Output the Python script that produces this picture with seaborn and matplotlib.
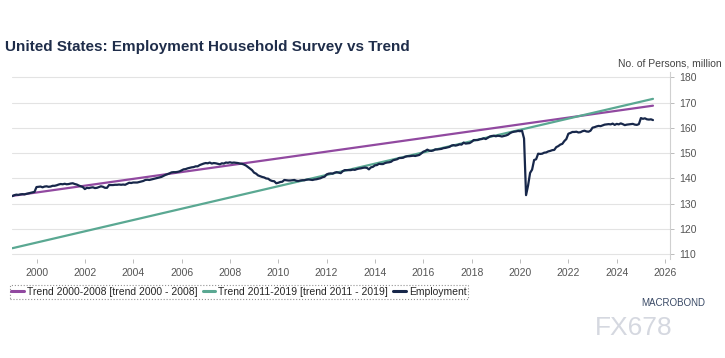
import numpy as np
import pandas as pd
import matplotlib
matplotlib.use("Agg")
import matplotlib.pyplot as plt
import seaborn as sns

# monthly employment, household survey (million persons), Jan 1999 - Jul 2025
emp_1999 = [133.0, 133.4, 133.6, 133.5, 133.7, 133.8, 133.7, 133.9, 134.1, 134.3, 134.5, 134.7]
emp_2000 = [136.6, 136.7, 136.8, 136.5, 136.8, 136.9, 136.7, 136.8, 137.1, 137.1, 137.3, 137.6]
emp_2001 = [137.8, 137.7, 137.9, 137.7, 137.8, 138.0, 138.1, 137.8, 137.6, 137.2, 136.9, 136.6]
emp_2002 = [135.8, 136.3, 136.2, 136.4, 136.5, 136.2, 136.3, 136.6, 136.9, 136.7, 136.3, 136.3]
emp_2003 = [137.4, 137.4, 137.4, 137.5, 137.5, 137.6, 137.5, 137.6, 137.5, 137.9, 138.3, 138.2]
emp_2004 = [138.4, 138.4, 138.4, 138.6, 138.8, 139.0, 139.4, 139.5, 139.4, 139.6, 139.8, 140.0]
emp_2005 = [140.2, 140.4, 140.6, 141.0, 141.4, 141.7, 142.0, 142.4, 142.5, 142.5, 142.6, 142.8]
emp_2006 = [143.2, 143.6, 143.7, 144.0, 144.2, 144.4, 144.5, 144.8, 144.8, 145.3, 145.6, 145.9]
emp_2007 = [146.1, 146.0, 146.3, 145.9, 146.1, 146.0, 145.8, 145.6, 146.0, 145.9, 146.3, 146.2]
emp_2008 = [146.4, 146.2, 146.3, 146.2, 146.1, 145.9, 145.8, 145.5, 145.1, 144.5, 143.9, 143.3]
emp_2009 = [142.3, 141.9, 141.2, 140.9, 140.6, 140.4, 140.0, 139.9, 139.3, 139.0, 138.9, 138.1]
emp_2010 = [138.3, 138.6, 138.7, 139.4, 139.3, 139.2, 139.2, 139.3, 139.4, 139.1, 139.0, 139.2]
emp_2011 = [139.3, 139.3, 139.5, 139.6, 139.5, 139.4, 139.6, 139.7, 139.9, 140.1, 140.5, 140.7]
emp_2012 = [141.6, 141.9, 142.0, 141.9, 142.3, 142.5, 142.3, 142.1, 142.9, 143.3, 143.3, 143.3]
emp_2013 = [143.3, 143.5, 143.4, 143.7, 143.9, 144.0, 144.2, 144.3, 144.2, 143.6, 144.4, 144.6]
emp_2014 = [145.2, 145.3, 145.8, 145.7, 145.7, 146.1, 146.3, 146.4, 146.6, 147.2, 147.4, 147.6]
emp_2015 = [148.1, 148.1, 148.2, 148.6, 148.8, 148.8, 148.9, 149.0, 148.9, 149.1, 149.3, 149.9]
emp_2016 = [150.6, 150.9, 151.4, 151.0, 150.9, 151.1, 151.5, 151.5, 151.6, 151.7, 152.0, 152.1]
emp_2017 = [152.3, 152.5, 153.0, 153.2, 153.0, 153.2, 153.5, 153.4, 154.2, 153.8, 153.9, 154.0]
emp_2018 = [154.5, 155.2, 155.2, 155.2, 155.5, 155.6, 155.9, 155.6, 156.1, 156.6, 156.8, 156.9]
emp_2019 = [156.7, 156.9, 156.8, 156.6, 156.8, 157.0, 157.3, 157.9, 158.3, 158.5, 158.6, 158.8]
emp_2020 = [158.7, 158.9, 155.8, 133.4, 137.2, 142.2, 143.5, 147.3, 147.6, 149.8, 149.7, 149.8]
emp_2021 = [150.2, 150.3, 150.7, 150.9, 151.2, 151.3, 152.4, 152.8, 153.4, 153.7, 154.8, 155.6]
emp_2022 = [157.7, 158.0, 158.4, 158.4, 158.5, 158.2, 158.3, 158.7, 158.9, 158.6, 158.5, 158.9]
emp_2023 = [160.1, 160.3, 160.6, 160.8, 160.7, 161.0, 161.3, 161.4, 161.5, 161.4, 161.7, 161.2]
emp_2024 = [161.6, 161.4, 161.8, 161.5, 161.1, 161.3, 161.4, 161.5, 161.6, 161.3, 161.2, 161.5]
emp_2025 = [163.9, 163.6, 163.8, 163.4, 163.3, 163.4, 163.1]

employment = (emp_1999 + emp_2000 + emp_2001 + emp_2002 + emp_2003 + emp_2004 + emp_2005
              + emp_2006 + emp_2007 + emp_2008 + emp_2009 + emp_2010 + emp_2011 + emp_2012
              + emp_2013 + emp_2014 + emp_2015 + emp_2016 + emp_2017 + emp_2018 + emp_2019
              + emp_2020 + emp_2021 + emp_2022 + emp_2023 + emp_2024 + emp_2025)

# linear trends, start / end values
trend_years = [1999.0, 2025.5]
trend_0008 = [133.1, 168.8]
trend_1119 = [112.4, 171.5]

labels = ["Trend 2000-2008 [trend 2000 - 2008]", "Trend 2011-2019 [trend 2011 - 2019]", "Employment"]
colors = ["#9149a0", "#5aa892", "#17274a"]

months = 1999 + np.arange(len(employment)) / 12.0
df_emp = pd.DataFrame({"year": months, "value": employment})

sns.set_style("white")
plt.rcParams["font.family"] = ["Liberation Sans Narrow", "Liberation Sans", "DejaVu Sans"]

fig = plt.figure(figsize=(7.25, 3.58), dpi=100)
ax = fig.add_axes([0.017, 0.277, 0.907, 0.521])

sns.lineplot(x=trend_years, y=trend_0008, ax=ax, color=colors[0], lw=1.6, label=labels[0])
sns.lineplot(x=trend_years, y=trend_1119, ax=ax, color=colors[1], lw=1.6, label=labels[1])
sns.lineplot(data=df_emp, x="year", y="value", ax=ax, color=colors[2], lw=1.6, label=labels[2])

ax.set_xlim(1999.0, 2026.2)
ax.set_ylim(108.2, 182)
ax.set_xticks(np.arange(2000, 2027, 2))
ax.set_yticks(np.arange(110, 181, 10))
ax.yaxis.tick_right()
ax.grid(axis="y", color="#e3e3e3", lw=0.8)
ax.set_xlabel("")
ax.set_ylabel("")
for s in ["top", "left", "bottom"]:
    ax.spines[s].set_visible(False)
ax.spines["right"].set_color("#d0d0d0")
ax.tick_params(axis="both", colors="#555555", labelsize=7.5, length=3, width=0.7, direction="out")
ax.tick_params(axis="x", bottom=True, color="#bbbbbb")
ax.tick_params(axis="y", right=True, color="#bbbbbb")

leg = ax.legend(loc="upper left", bbox_to_anchor=(-0.012, -0.115), ncol=3, fontsize=7.5,
                frameon=True, handlelength=1.2, handletextpad=0.3, columnspacing=0.5,
                borderpad=0.15, fancybox=False)
leg.get_frame().set_linestyle(":")
leg.get_frame().set_edgecolor("#777777")
leg.get_frame().set_linewidth(0.8)
for line in leg.get_lines():
    line.set_linewidth(2.2)

fig.text(0.007, 0.869, "United States: Employment Household Survey vs Trend", fontsize=11,
         fontweight="bold", color="#1f2d4a", va="center", family=["Liberation Sans", "DejaVu Sans"])
fig.text(0.995, 0.824, "No. of Persons, million", fontsize=7.5, color="#444444", ha="right", va="center")
fig.text(0.885, 0.155, "MACROBOND", fontsize=7, color="#3a4a66", ha="left", va="center",
         family=["Liberation Sans", "DejaVu Sans"])
fig.text(0.82, 0.085, "FX678", fontsize=19, color="#d5d8e0", ha="left", va="center",
         family=["Liberation Sans", "DejaVu Sans"])

fig.savefig("out.png", dpi=100)
